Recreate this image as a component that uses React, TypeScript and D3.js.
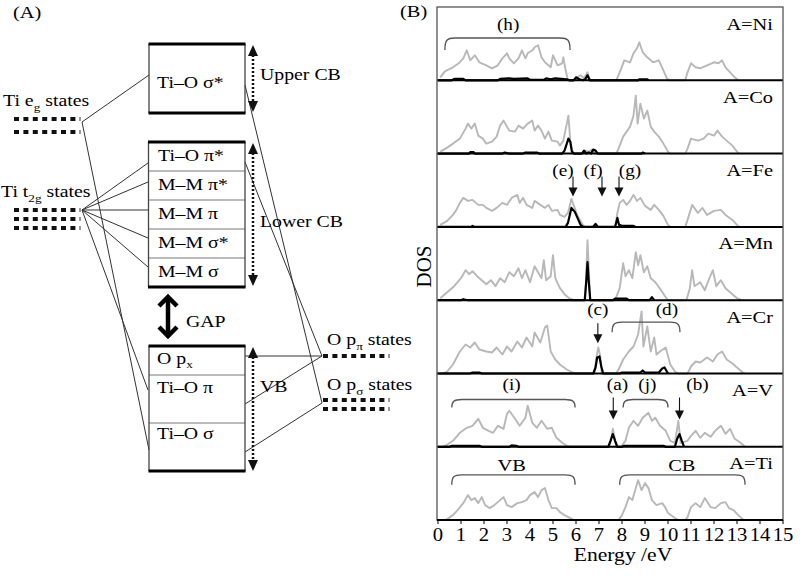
import React from 'react';
import * as d3 from 'd3';

type P = [number, number];

const panelNames = ['A=Ni', 'A=Co', 'A=Fe', 'A=Mn', 'A=Cr', 'A=V', 'A=Ti'];
const energyTicks = [0, 1, 2, 3, 4, 5, 6, 7, 8, 9, 10, 11, 12, 13, 14, 15];

// total DOS (grey) — energy (eV), DOS (arb. units)
const niTotal: P[] = [[0.1,3],[0.3,9],[0.65,13],[0.9,17],[1.1,22],[1.25,30],[1.4,20],[1.6,25],[1.8,18],[2.1,15],[2.35,12],[2.6,15],[2.8,22],[3.0,27],[3.1,22],[3.3,17],[3.5,22],[3.65,30],[3.8,22],[3.9,27],[4.1,30],[4.2,33],[4.35,35],[4.5,23],[4.65,18],[4.9,13],[5.0,25],[5.2,15],[5.4,17],[5.45,23],[5.55,10],[5.65,0],[5.9,0],[6.05,3],[6.2,5],[6.35,2],[6.5,8],[6.6,0],[7.75,0],[7.9,8],[8.1,20],[8.35,18],[8.5,27],[8.65,32],[8.75,38],[8.9,28],[9.1,23],[9.35,18],[9.6,20],[9.8,10],[9.95,2],[10.05,0],[10.75,0],[10.85,8],[11.0,17],[11.2,13],[11.4,12],[11.7,15],[12.0,18],[12.2,17],[12.35,20],[12.5,13],[12.7,8],[12.9,3],[13.05,0]];
const coTotal: P[] = [[0.1,2],[0.4,6],[0.65,10],[0.95,15],[1.2,25],[1.3,30],[1.45,25],[1.6,30],[1.75,18],[1.95,15],[2.1,10],[2.35,12],[2.55,17],[2.7,28],[2.85,33],[3.0,27],[3.1,23],[3.35,22],[3.5,28],[3.7,25],[3.9,30],[4.1,33],[4.2,23],[4.35,28],[4.5,23],[4.65,15],[4.8,22],[4.95,13],[5.2,12],[5.3,8],[5.45,13],[5.6,30],[5.67,38],[5.75,13],[5.85,2],[5.95,0],[6.3,0],[6.4,3],[6.55,2],[6.7,4],[6.85,0],[7.75,0],[7.85,5],[8.05,17],[8.2,22],[8.35,27],[8.5,38],[8.6,58],[8.68,30],[8.8,50],[8.95,35],[9.1,43],[9.25,27],[9.4,22],[9.6,17],[9.8,10],[10.0,2],[10.1,0],[10.75,0],[10.85,5],[11.0,15],[11.3,13],[11.55,15],[11.75,20],[12.0,18],[12.15,23],[12.35,17],[12.55,13],[12.8,8],[13.0,2],[13.1,0]];
const feTotal: P[] = [[0.1,2],[0.4,6],[0.65,12],[0.8,17],[0.95,24],[1.1,29],[1.3,26],[1.5,27],[1.75,22],[1.95,22],[2.1,19],[2.35,16],[2.55,19],[2.8,24],[3.0,22],[3.2,29],[3.45,32],[3.55,24],[3.7,29],[3.85,22],[4.1,19],[4.2,26],[4.45,22],[4.65,19],[4.8,22],[4.95,16],[5.2,17],[5.3,12],[5.5,10],[5.65,14],[5.8,28],[6.05,12],[6.3,2],[6.4,0],[6.7,0],[6.8,2],[6.9,1],[7.0,0],[7.7,0],[7.8,14],[7.9,24],[8.05,27],[8.2,22],[8.35,26],[8.5,32],[8.65,26],[8.8,29],[9.0,21],[9.25,17],[9.4,22],[9.6,17],[9.8,11],[10.0,2],[10.1,0],[10.75,0],[10.85,7],[11.05,22],[11.3,14],[11.5,19],[11.7,12],[12.0,16],[12.3,17],[12.5,12],[12.8,7],[13.0,2],[13.1,0]];
const mnTotal: P[] = [[0.1,2],[0.4,8],[0.7,14],[1.0,22],[1.2,30],[1.35,26],[1.5,29],[1.7,24],[1.9,20],[2.1,16],[2.3,20],[2.5,14],[2.7,22],[2.9,18],[3.1,28],[3.3,24],[3.5,32],[3.65,22],[3.8,30],[4.0,18],[4.2,34],[4.35,28],[4.5,22],[4.6,40],[4.7,20],[4.9,24],[5.0,45],[5.1,22],[5.3,12],[5.5,6],[5.7,2],[5.9,0],[6.4,0],[6.45,30],[6.5,60],[6.55,35],[6.62,0],[7.7,0],[7.9,12],[8.05,37],[8.15,24],[8.3,30],[8.45,22],[8.6,48],[8.7,35],[8.8,45],[8.95,28],[9.1,34],[9.25,22],[9.45,18],[9.7,10],[9.9,3],[10.0,0],[10.8,0],[10.95,12],[11.05,30],[11.15,14],[11.4,18],[11.6,10],[11.8,22],[11.95,30],[12.1,14],[12.3,20],[12.5,12],[12.8,6],[13.0,2],[13.2,0]];
const crTotal: P[] = [[0.2,0],[0.4,2],[0.65,9],[0.95,22],[1.2,29],[1.4,26],[1.6,31],[1.8,24],[2.1,22],[2.35,21],[2.55,26],[2.8,19],[3.0,27],[3.2,22],[3.45,32],[3.65,26],[3.85,36],[4.1,27],[4.2,41],[4.45,31],[4.65,46],[4.75,48],[4.9,22],[5.1,14],[5.3,9],[5.6,4],[5.85,1],[6.0,0],[6.8,0],[6.9,18],[6.97,26],[7.05,18],[7.12,0],[7.75,0],[7.85,4],[8.05,14],[8.3,22],[8.5,27],[8.7,39],[8.85,62],[8.93,27],[9.1,47],[9.25,22],[9.4,36],[9.5,19],[9.65,22],[9.9,26],[10.1,9],[10.3,2],[10.45,0],[10.85,0],[11.0,7],[11.2,12],[11.4,11],[11.7,16],[11.95,12],[12.15,19],[12.35,22],[12.55,14],[12.8,10],[13.0,6],[13.25,1],[13.35,0]];
const vTotal: P[] = [[0.2,0],[0.4,2],[0.65,6],[0.95,14],[1.25,19],[1.5,21],[1.75,28],[1.95,19],[2.2,16],[2.4,14],[2.6,21],[2.85,18],[3.0,33],[3.1,36],[3.35,28],[3.55,21],[3.8,29],[3.9,41],[4.1,24],[4.3,19],[4.5,26],[4.75,18],[4.95,19],[5.15,9],[5.4,4],[5.6,1],[5.75,0],[7.45,0],[7.55,10],[7.6,18],[7.67,10],[7.75,0],[7.95,0],[8.15,6],[8.3,19],[8.5,26],[8.7,21],[8.9,29],[9.15,34],[9.3,26],[9.45,29],[9.65,21],[9.9,16],[10.1,6],[10.3,4],[10.45,26],[10.55,4],[10.85,6],[11.0,11],[11.2,16],[11.4,9],[11.6,14],[11.85,10],[12.05,16],[12.3,21],[12.5,13],[12.7,18],[12.9,8],[13.15,4],[13.35,0]];
const tiTotal: P[] = [[0.3,0],[0.4,1],[0.65,5],[0.85,10],[1.1,17],[1.3,25],[1.45,20],[1.6,22],[1.75,17],[1.9,23],[2.05,15],[2.25,12],[2.45,15],[2.7,20],[2.85,23],[3.0,15],[3.2,13],[3.45,17],[3.65,18],[3.85,20],[4.0,25],[4.2,28],[4.35,23],[4.5,30],[4.65,32],[4.8,20],[4.95,12],[5.15,12],[5.3,8],[5.5,5],[5.75,2],[5.9,0],[7.85,0],[8.0,5],[8.15,13],[8.3,23],[8.45,20],[8.6,32],[8.7,40],[8.85,30],[9.0,37],[9.15,32],[9.3,20],[9.5,15],[9.75,17],[9.9,12],[10.0,7],[10.3,2],[10.45,0],[10.75,0],[10.85,3],[11.0,13],[11.2,17],[11.4,13],[11.6,22],[11.85,13],[12.05,12],[12.3,17],[12.5,18],[12.65,12],[12.85,10],[13.05,5],[13.3,0]];

// partial DOS of the A atom (black)
const niPartial: P[] = [[0,0],[0.6,0],[0.7,1.5],[1.1,1.5],[1.2,0],[2.6,0],[2.7,1.5],[3.1,2],[3.3,1.5],[3.9,2],[4.0,0.5],[4.6,0.5],[4.7,2],[4.9,1],[5.1,2],[5.6,1],[5.7,0],[5.9,0],[6.0,3],[6.15,1],[6.3,0],[6.4,1],[6.5,5],[6.6,0],[8.7,0],[8.75,1],[9.1,1],[9.15,0]];
const coPartial: P[] = [[0,0],[1.35,0],[1.4,1.5],[1.55,1.5],[1.6,0],[2.8,0],[2.9,1],[3.1,0],[3.7,0],[3.8,1],[4.3,1],[4.4,0],[5.4,0],[5.5,3],[5.6,10],[5.67,15],[5.75,12],[5.82,2],[5.9,0],[6.25,0],[6.35,3],[6.45,0],[6.55,1],[6.65,0],[6.75,4],[6.85,3],[6.95,0],[8.85,0],[8.9,1],[9.0,0]];
const fePartial: P[] = [[0,0],[1.45,0],[1.5,1],[1.6,0],[5.55,0],[5.65,4],[5.8,19],[5.95,15],[6.2,2],[6.3,0],[6.75,0],[6.85,3],[6.95,0],[7.7,0],[7.8,9],[7.87,2],[8.0,1],[8.5,1],[8.6,0]];
const mnPartial: P[] = [[0,0],[1.0,0],[1.1,1],[1.3,0],[6.38,0],[6.45,20],[6.5,38],[6.55,20],[6.62,0],[7.6,0],[7.7,1.5],[8.2,1.5],[8.3,0],[9.2,0],[9.3,3],[9.4,0]];
const crPartial: P[] = [[0,0],[1.4,0],[1.5,1],[1.8,1],[1.9,0],[6.75,0],[6.85,6],[6.92,16],[7.02,17],[7.1,7],[7.18,0],[7.9,0],[8.0,1],[8.8,1],[8.9,3],[9.0,1],[9.6,1],[9.75,5],[9.85,6],[10.0,0]];
const vPartial: P[] = [[0,0],[0.5,0],[0.6,1],[1.8,1],[1.9,0],[3.1,0],[3.2,1.5],[3.4,1],[3.5,0],[7.4,0],[7.5,6],[7.6,12.7],[7.7,6],[7.8,0],[8.0,0],[8.1,1],[9.8,1],[9.9,0],[10.3,0],[10.4,8],[10.5,12.7],[10.6,6],[10.7,0]];
const tiPartial: P[] = [];

const totals = [niTotal, coTotal, feTotal, mnTotal, crTotal, vTotal, tiTotal];
const partials = [niPartial, coPartial, fePartial, mnPartial, crPartial, vPartial, tiPartial];

// annotations (energies in eV)
const arrowNotes = [
  { panel: 2, label: '(e)', labelE: 5.43, arrowE: 5.87 },
  { panel: 2, label: '(f)', labelE: 6.74, arrowE: 7.13 },
  { panel: 2, label: '(g)', labelE: 8.35, arrowE: 7.87 },
  { panel: 4, label: '(c)', labelE: 6.95, arrowE: 6.95 },
  { panel: 5, label: '(a)', labelE: 7.8, arrowE: 7.62 },
  { panel: 5, label: '(b)', labelE: 11.28, arrowE: 10.5 },
];
const bracketNotes = [
  { panel: 0, label: '(h)', from: 0.3, to: 5.74, labelE: 3.05 },
  { panel: 4, label: '(d)', from: 7.57, to: 10.52, labelE: 9.95 },
  { panel: 5, label: '(i)', from: 0.6, to: 5.96, labelE: 3.2 },
  { panel: 5, label: '(j)', from: 8.05, to: 10.0, labelE: 9.1 },
  { panel: 6, label: 'VB', from: 0.6, to: 5.96, labelE: 3.2 },
  { panel: 6, label: 'CB', from: 7.9, to: 13.35, labelE: 10.6 },
];

// vertical layout of annotations per panel (px offsets from panel top)
const noteLayout: Record<number, { label: number; a1: number; a2: number; br: number; drop: number }> = {
  0: { label: 23, a1: 0, a2: 0, br: 31, drop: 12 },
  2: { label: 22, a1: 23, a2: 43, br: 0, drop: 0 },
  4: { label: 15, a1: 23, a2: 43, br: 22, drop: 10 },
  5: { label: 16, a1: 24, a2: 46, br: 26, drop: 8 },
  6: { label: 24.5, a1: 0, a2: 0, br: 28, drop: 10 },
};

const F = "'Liberation Serif','Times New Roman',serif";

function T(props: { x: number; y: number; size?: number; anchor?: string; sx?: number; children?: any; fill?: string }) {
  const { x, y, size = 16.5, anchor = 'start', sx = 1.2, fill = '#000' } = props;
  return (
    <text transform={`translate(${x},${y}) scale(${sx},1)`} fontSize={size} textAnchor={anchor as any} fontFamily={F} fill={fill}>
      {props.children}
    </text>
  );
}

function States({ x, ys }: { x: number; ys: number[] }) {
  return (
    <g>
      {ys.map((y, i) => (
        <g key={i}>
          <line x1={x} x2={x + 62} y1={y} y2={y} stroke="#111" strokeWidth={4} strokeDasharray="5 4.4" />
          <line x1={x + 66} x2={x + 66} y1={y - 2} y2={y + 2} stroke="#333" strokeWidth={1} />
        </g>
      ))}
    </g>
  );
}

function DArrow({ x, y1, y2 }: { x: number; y1: number; y2: number }) {
  return (
    <g>
      <line x1={x} x2={x} y1={y1 + 10} y2={y2 - 10} stroke="#111" strokeWidth={2.5} strokeDasharray="2 2" />
      <path d={`M${x},${y1} L${x - 5},${y1 + 11} L${x + 5},${y1 + 11} Z`} fill="#111" />
      <path d={`M${x},${y2} L${x - 5},${y2 - 11} L${x + 5},${y2 - 11} Z`} fill="#111" />
    </g>
  );
}

function Box({ x1, x2, y1, y2, dividers }: { x1: number; x2: number; y1: number; y2: number; dividers: number[] }) {
  return (
    <g>
      {dividers.map((d, i) => (
        <line key={i} x1={x1} x2={x2} y1={d} y2={d} stroke="#777" strokeWidth={1} />
      ))}
      <line x1={x1} x2={x1} y1={y1} y2={y2} stroke="#444" strokeWidth={1.3} />
      <line x1={x2} x2={x2} y1={y1} y2={y2} stroke="#444" strokeWidth={1.3} />
      <line x1={x1 - 0.5} x2={x2 + 0.5} y1={y1} y2={y1} stroke="#000" strokeWidth={3} />
      <line x1={x1 - 0.5} x2={x2 + 0.5} y1={y2} y2={y2} stroke="#000" strokeWidth={3} />
    </g>
  );
}

function PanelA() {
  const ln = (x1: number, y1: number, x2: number, y2: number, k: string) => (
    <line key={k} x1={x1} y1={y1} x2={x2} y2={y2} stroke="#333" strokeWidth={1} />
  );
  const eg = [82, 122];
  const t2g = [82, 210];
  const ppi = [322, 356];
  const psig = [322, 403];
  return (
    <g>
      <T x={13} y={18} size={17}>(A)</T>
      {ln(eg[0], eg[1], 149, 75, 'a')}
      {ln(eg[0], eg[1], 149, 450, 'b')}
      {ln(t2g[0], t2g[1], 148, 163, 'c')}
      {ln(t2g[0], t2g[1], 148, 182, 'd')}
      {ln(t2g[0], t2g[1], 148, 210, 'e')}
      {ln(t2g[0], t2g[1], 148, 238, 'f')}
      {ln(t2g[0], t2g[1], 148, 267, 'g')}
      {ln(t2g[0], t2g[1], 148, 390, 'h')}
      {ln(245, 85, psig[0], psig[1], 'i')}
      {ln(245, 162, ppi[0], ppi[1], 'j')}
      {ln(245, 356, ppi[0], ppi[1], 'k')}
      {ln(245, 404, ppi[0], ppi[1], 'l')}
      {ln(245, 452, psig[0], psig[1], 'm')}

      <Box x1={149} x2={245} y1={44} y2={113} dividers={[]} />
      <Box x1={148.5} x2={245} y1={142} y2={287} dividers={[171, 200, 229, 258]} />
      <Box x1={149} x2={245} y1={346} y2={471} dividers={[375, 423]} />

      <T x={157} y={88}>Ti–O σ*</T>
      <T x={158} y={161}>Ti–O π*</T>
      <T x={158} y={190}>M–M π*</T>
      <T x={158} y={219}>M–M π</T>
      <T x={158} y={248}>M–M σ*</T>
      <T x={158} y={277}>M–M σ</T>
      <T x={157} y={364}>O  p<tspan fontSize={11} dy={4}>x</tspan></T>
      <T x={157} y={393}>Ti–O  π</T>
      <T x={157} y={439}>Ti–O σ</T>

      <DArrow x={253} y1={45} y2={112} />
      <DArrow x={253} y1={143} y2={286} />
      <DArrow x={253} y1={347} y2={471} />
      <T x={260} y={80}>Upper CB</T>
      <T x={260} y={227}>Lower CB</T>
      <T x={260} y={392}>VB</T>

      <g stroke="#000" strokeWidth={4.5} fill="none" strokeLinejoin="miter">
        <line x1={168} x2={168} y1={298} y2={335} />
        <path d="M159,306 L168,297 L177,306" />
        <path d="M159,327 L168,336 L177,327" />
      </g>
      <T x={186} y={327}>GAP</T>

      <T x={3} y={106}>Ti e<tspan fontSize={11} dy={5}>g</tspan><tspan dy={-5}> states</tspan></T>
      <States x={14} ys={[119, 132]} />
      <T x={1} y={197}>Ti t<tspan fontSize={11} dy={5}>2g</tspan><tspan dy={-5}> states</tspan></T>
      <States x={14} ys={[210, 219, 228]} />

      <T x={327} y={345}>O p<tspan fontSize={11} dy={5}>π</tspan><tspan dy={-5}> states</tspan></T>
      <States x={323} ys={[356]} />
      <T x={327} y={390}>O p<tspan fontSize={11} dy={5}>σ</tspan><tspan dy={-5}> states</tspan></T>
      <States x={323} ys={[400, 409]} />
    </g>
  );
}

function PanelB() {
  const left = 437, right = 783, top = 7, ph = 73.3;
  const x = d3.scaleLinear().domain([0, 15]).range([438, 783]);
  const n = panelNames.length;
  const bottom = top + n * ph;
  return (
    <g>
      <T x={400} y={17} size={17}>(B)</T>
      {panelNames.map((name, i) => {
        const pt = top + i * ph;
        const pb = pt + ph;
        const y = d3.scaleLinear().domain([0, ph]).range([pb, pt]);
        const line = d3.line<P>().x((d) => x(d[0])).y((d) => y(d[1]));
        return (
          <g key={name}>
            <path d={line(totals[i]) || ''} fill="none" stroke="#b8b8b8" strokeWidth={1.9} strokeLinejoin="round" />
            {partials[i].length > 0 && (
              <path d={line(partials[i]) || ''} fill="none" stroke="#000" strokeWidth={2.2} strokeLinejoin="round" />
            )}
            <line x1={left} x2={right} y1={pb} y2={pb} stroke="#000" strokeWidth={2} />
            <T x={773} y={pt + 22.5} size={17} anchor="end">{name}</T>
          </g>
        );
      })}
      {arrowNotes.map((a, k) => {
        const L = noteLayout[a.panel];
        const pt = top + a.panel * ph;
        const ax = x(a.arrowE);
        const yb = pt + L.a2;
        return (
          <g key={'a' + k}>
            <T x={x(a.labelE)} y={pt + L.label} size={16} anchor="middle">{a.label}</T>
            <line x1={ax} x2={ax} y1={pt + L.a1} y2={yb - 7} stroke="#111" strokeWidth={1.1} />
            <path d={`M${ax},${yb} L${ax - 4.5},${yb - 9} L${ax + 4.5},${yb - 9} Z`} fill="#111" />
          </g>
        );
      })}
      {bracketNotes.map((b, k) => {
        const L = noteLayout[b.panel];
        const pt = top + b.panel * ph;
        const x1 = x(b.from), x2 = x(b.to), yy = pt + L.br, dr = L.drop;
        const d = `M${x1},${yy + dr} C${x1},${yy + 2} ${x1 + 2},${yy} ${x1 + 10},${yy} L${x2 - 10},${yy} C${x2 - 2},${yy} ${x2},${yy + 2} ${x2},${yy + dr}`;
        return (
          <g key={'b' + k}>
            <path d={d} fill="none" stroke="#555" strokeWidth={1.3} />
            <T x={x(b.labelE)} y={pt + L.label} size={b.label.startsWith('(') ? 16 : 17} anchor="middle">{b.label}</T>
          </g>
        );
      })}
      <rect x={left} y={top} width={right - left} height={bottom - top} fill="none" stroke="#555" strokeWidth={1.3} />
      <line x1={left} x2={right} y1={bottom} y2={bottom} stroke="#000" strokeWidth={2} />
      {energyTicks.map((t) => (
        <g key={t}>
          <line x1={x(t)} x2={x(t)} y1={bottom} y2={bottom + 4} stroke="#000" strokeWidth={1} />
          <T x={x(t)} y={541} size={18} sx={1.15} anchor="middle">{t}</T>
        </g>
      ))}
      <T x={623} y={561} size={18} anchor="middle">Energy /eV</T>
      <text transform="translate(431,266.5) rotate(-90)" fontSize={21} textAnchor="middle" fontFamily={F} fill="#000">DOS</text>
    </g>
  );
}

export default function App() {
  return (
    <svg width={800} height={578} style={{ position: 'absolute', left: 0, top: 0, background: '#fff' }}>
      <rect x={0} y={0} width={800} height={578} fill="#fff" />
      <PanelA />
      <PanelB />
    </svg>
  );
}
